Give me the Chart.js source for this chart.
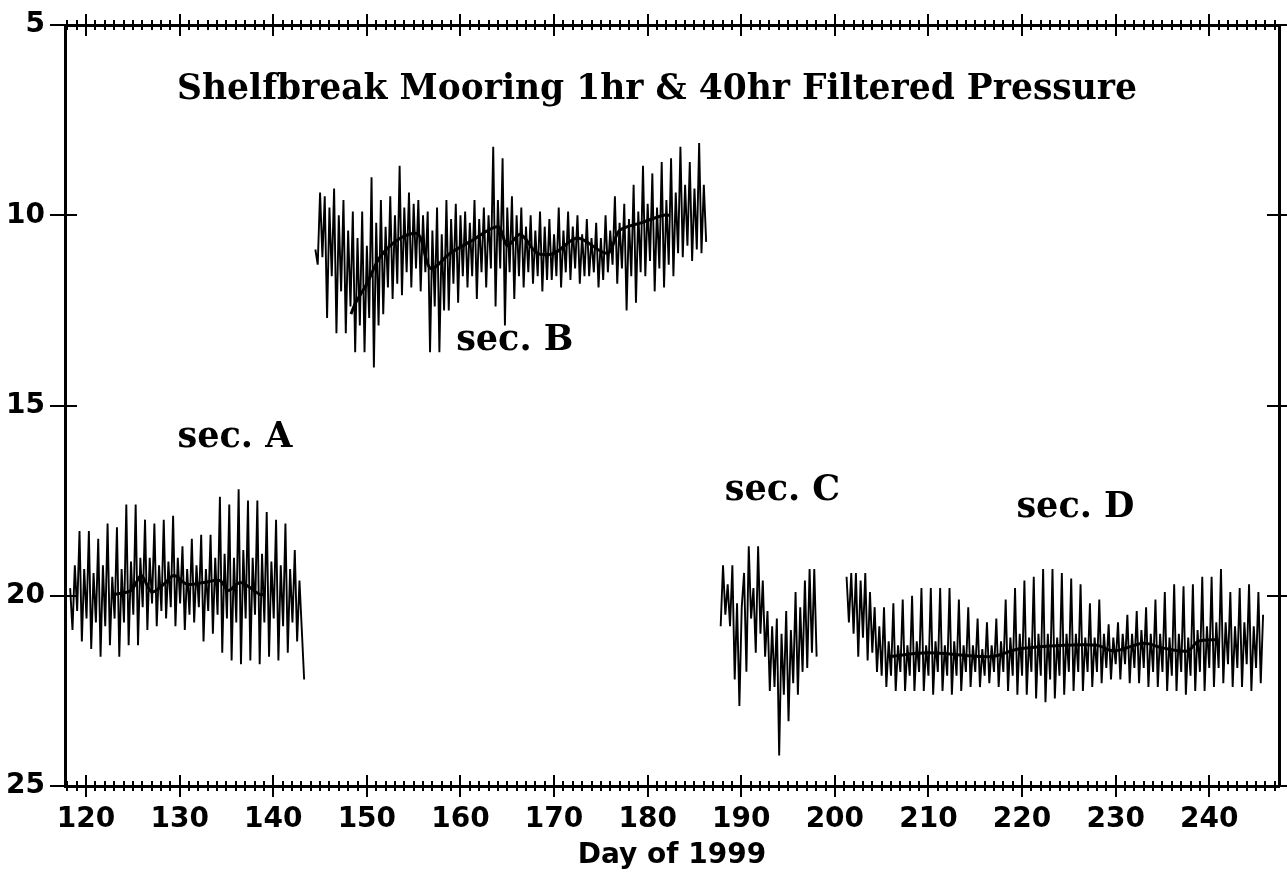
<!DOCTYPE html>
<html>
<head>
    <title>Shelfbreak Mooring 1hr & 40hr Filtered Pressure</title>
    <script src="https://cdn.jsdelivr.net/npm/chart.js"></script>
    <style>
        body { margin: 0; background: #fff; }
        #wrap { width: 1287px; height: 873px; }
    </style>
</head>
<body>
<div id="wrap"><canvas id="pressureChart"></canvas></div>

<script>
const sampleStep = 0.25;

const secAStart = 118.3;
const secA = [
    19.8, 20.9, 19.2, 20.4,
    18.3, 21.2, 19.3, 20.6,
    18.3, 21.4, 19.4, 20.7,
    18.5, 21.6, 19.2, 20.8,
    18.1, 21.3, 19.5, 20.6,
    18.2, 21.6, 19.3, 20.7,
    17.6, 21.3, 19.1, 20.5,
    17.6, 21.3, 19.0, 20.3,
    18.0, 20.9, 19.0, 20.2,
    18.1, 20.8, 19.2, 20.4,
    18.0, 20.6, 19.1, 20.3,
    17.9, 20.8, 19.0, 20.2,
    18.7, 20.9, 19.3, 20.5,
    18.5, 20.7, 19.2, 20.3,
    18.4, 21.2, 19.3, 20.4,
    18.4, 21.0, 19.0, 20.5,
    17.4, 21.5, 18.9, 20.6,
    17.6, 21.7, 19.0, 20.7,
    17.2, 21.8, 18.8, 20.6,
    17.5, 21.7, 19.0, 20.5,
    17.5, 21.8, 18.9, 20.7,
    17.8, 21.6, 19.1, 20.6,
    18.0, 21.7, 19.2, 20.8,
    18.1, 21.5, 19.3, 20.7,
    18.8, 21.2, 19.6, 20.9,
    22.2
];

const secBStart = 144.5;
const secB = [
    10.9, 11.3, 9.4, 11.1,
    9.5, 12.7, 9.8, 11.6,
    9.3, 13.1, 10.0, 12.0,
    9.6, 13.1, 10.4, 12.4,
    9.9, 13.6, 10.6, 12.9,
    9.9, 13.6, 10.8, 12.7,
    9.0, 14.0, 10.2, 12.9,
    9.6, 12.6, 10.3, 11.9,
    9.5, 12.2, 10.0, 11.8,
    8.7, 12.1, 9.8, 11.5,
    9.4, 11.9, 9.7, 11.4,
    9.6, 12.0, 10.0, 11.5,
    9.9, 13.6, 10.4, 12.4,
    9.8, 13.6, 10.5, 12.5,
    9.6, 12.5, 10.1, 11.8,
    9.7, 12.3, 10.0, 11.6,
    9.9, 11.9, 10.2, 11.6,
    9.6, 12.2, 10.1, 11.5,
    9.8, 11.9, 10.0, 11.4,
    8.2, 12.4, 9.6, 11.4,
    8.5, 12.9, 9.8, 11.5,
    9.5, 12.2, 10.0, 11.6,
    9.8, 11.9, 10.3, 11.5,
    10.0, 11.8, 10.4, 11.6,
    9.9, 12.0, 10.3, 11.7,
    10.1, 11.7, 10.5, 11.6,
    9.8, 11.9, 10.4, 11.5,
    9.9, 11.7, 10.3, 11.4,
    10.0, 11.8, 10.5, 11.6,
    10.1, 11.6, 10.6, 11.5,
    10.2, 11.9, 10.6, 11.7,
    10.0, 11.5, 10.4, 11.3,
    9.5, 11.8, 10.2, 11.4,
    9.7, 12.5, 10.1, 11.6,
    9.2, 12.3, 9.9, 11.5,
    8.7, 11.6, 9.7, 11.2,
    8.9, 12.0, 9.8, 11.4,
    8.6, 11.9, 9.6, 11.3,
    8.5, 11.6, 9.4, 11.0,
    8.2, 11.1, 9.2, 10.8,
    8.6, 11.2, 9.3, 10.9,
    8.1, 11.0, 9.2, 10.7
];

const secCStart = 187.8;
const secC = [
    20.8, 19.2, 20.5, 19.7,
    20.8, 19.2, 22.2, 20.2,
    22.9, 20.3, 19.4, 22.0,
    18.7, 20.6, 19.8, 21.5,
    18.7, 21.0, 19.6, 21.6,
    20.4, 22.5, 20.8, 22.4,
    20.6, 24.2, 21.0, 22.6,
    20.4, 23.3, 20.9, 22.3,
    19.9, 22.6, 20.3, 22.0,
    19.6, 21.9, 19.3, 21.5,
    19.3, 21.6
];

const secDStart = 201.25;
const secD = [
    19.5, 20.7, 19.4, 21.0,
    19.4, 21.6, 19.6, 21.1,
    19.4, 21.7, 19.9, 21.5,
    20.3, 22.0, 20.8, 22.1,
    20.3, 22.4, 21.2, 22.1,
    20.2, 22.5, 21.3, 22.0,
    20.1, 22.5, 21.3, 22.1,
    20.0, 22.5, 21.2, 22.0,
    19.8, 22.5, 21.3, 22.1,
    19.8, 22.6, 21.2, 22.0,
    19.8, 22.5, 21.3, 22.1,
    19.8, 22.6, 21.2, 22.1,
    20.1, 22.5, 21.3, 22.0,
    20.3, 22.4, 21.3, 22.0,
    20.6, 22.4, 21.4, 22.1,
    20.7, 22.3, 21.3, 22.0,
    20.6, 22.4, 21.2, 22.0,
    20.1, 22.5, 21.1, 22.1,
    19.8, 22.6, 21.0, 22.1,
    19.6, 22.6, 21.1, 22.0,
    19.5, 22.7, 21.0, 22.1,
    19.3, 22.8, 21.0, 22.2,
    19.3, 22.7, 21.1, 22.1,
    19.4, 22.6, 21.0, 22.0,
    19.55, 22.5, 21.0, 22.0,
    19.7, 22.5, 21.1, 22.0,
    20.2, 22.4, 21.1, 22.0,
    20.1, 22.3, 21.0, 21.9,
    20.75, 22.2, 21.1, 21.8,
    20.7, 22.2, 21.0, 21.8,
    20.5, 22.3, 21.0, 21.9,
    20.4, 22.3, 20.9, 21.9,
    20.3, 22.4, 21.0, 22.0,
    20.1, 22.4, 21.0, 22.0,
    19.9, 22.5, 21.1, 22.1,
    19.7, 22.5, 21.0, 22.0,
    19.75, 22.6, 21.1, 22.1,
    19.7, 22.5, 20.9, 22.0,
    19.5, 22.5, 20.8, 21.9,
    19.5, 22.4, 20.7, 21.9,
    19.3, 22.3, 20.7, 21.8,
    19.9, 22.4, 20.8, 21.9,
    19.8, 22.4, 20.7, 21.8,
    19.7, 22.5, 20.8, 21.9,
    19.9, 22.3, 20.5
];

// 40hr low-passed pressure
const filtADays = [122.8, 124.8, 125.9, 127.0, 128.3, 129.4, 130.8, 132.6, 134.3, 135.2, 136.5, 138.6, 139.1];
const filtA = [19.97, 19.86, 19.47, 19.9, 19.7, 19.47, 19.7, 19.65, 19.6, 19.86, 19.65, 19.97, 19.95];

const filtBDays = [148.3, 148.8, 150.0, 151.4, 153.6, 155.5, 156.8, 158.9, 161.0, 164.0, 165.0, 166.4, 168.2, 170.0, 172.5, 175.7, 177.0, 179.3, 181.7, 182.3];
const filtB = [12.6, 12.3, 11.8, 11.1, 10.6, 10.5, 11.4, 11.0, 10.7, 10.3, 10.8, 10.5, 11.0, 11.0, 10.6, 11.0, 10.4, 10.2, 10.0, 10.0];

const filtDDays = [205.7, 210.0, 216.7, 219.6, 224.5, 228.0, 229.8, 233.0, 235.0, 237.7, 238.8, 241.0];
const filtD = [21.6, 21.5, 21.6, 21.4, 21.3, 21.3, 21.45, 21.25, 21.37, 21.45, 21.2, 21.15];

const yTicks = [5, 10, 15, 20, 25];

// text written inside the plot, placed in day / pressure units
const titleText = { text: 'Shelfbreak Mooring 1hr & 40hr Filtered Pressure', day: 181.0, value: 6.7 };
const sectionLabels = [
    { text: 'sec. A', day: 135.9, value: 15.85 },
    { text: 'sec. B', day: 165.8, value: 13.3 },
    { text: 'sec. C', day: 194.4, value: 17.25 },
    { text: 'sec. D', day: 225.7, value: 17.7 }
];

function toPoints(start, values) {
    return values.map((v, i) => ({ x: start + i * sampleStep, y: v }));
}
function pairPoints(days, values) {
    return days.map((d, i) => ({ x: d, y: values[i] }));
}

const rawLine = { borderColor: '#000', borderWidth: 1.9, pointRadius: 0, fill: false, tension: 0 };
const filtLine = { borderColor: '#000', borderWidth: 3, pointRadius: 0, fill: false, tension: 0.3 };

// tick marks that cross the frame, and the text inside the plot
const frameMarks = {
    id: 'frameMarks',
    afterDraw(chart) {
        const { ctx, chartArea, scales } = chart;
        ctx.save();
        ctx.strokeStyle = '#000';
        ctx.lineWidth = 2;
        ctx.beginPath();
        for (let d = 118; d <= 247; d++) {
            const px = Math.round(scales.x.getPixelForValue(d));
            const len = d % 10 === 0 ? 11 : 5;
            ctx.moveTo(px, chartArea.top - len);
            ctx.lineTo(px, chartArea.top + len);
            ctx.moveTo(px, chartArea.bottom - len);
            ctx.lineTo(px, chartArea.bottom + len);
        }
        yTicks.forEach(v => {
            const py = Math.round(scales.y.getPixelForValue(v));
            ctx.moveTo(chartArea.left - 12, py);
            ctx.lineTo(chartArea.left + 12, py);
            ctx.moveTo(chartArea.right - 12, py);
            ctx.lineTo(chartArea.right + 12, py);
        });
        ctx.stroke();

        ctx.fillStyle = '#000';
        ctx.textAlign = 'center';
        ctx.textBaseline = 'middle';
        ctx.font = 'bold 34.5px "DejaVu Serif"';
        ctx.fillText(titleText.text, scales.x.getPixelForValue(titleText.day), scales.y.getPixelForValue(titleText.value));
        ctx.font = 'bold 35px "DejaVu Serif"';
        sectionLabels.forEach(t => {
            ctx.fillText(t.text, scales.x.getPixelForValue(t.day), scales.y.getPixelForValue(t.value));
        });
        ctx.restore();
    }
};

const axisFont = { family: 'DejaVu Sans', size: 28, weight: 'bold' };

new Chart(document.getElementById('pressureChart'), {
    type: 'line',
    data: {
        datasets: [
            { ...rawLine, data: toPoints(secAStart, secA) },
            { ...rawLine, data: toPoints(secBStart, secB) },
            { ...rawLine, data: toPoints(secCStart, secC) },
            { ...rawLine, data: toPoints(secDStart, secD) },
            { ...filtLine, data: pairPoints(filtADays, filtA) },
            { ...filtLine, data: pairPoints(filtBDays, filtB) },
            { ...filtLine, data: pairPoints(filtDDays, filtD) }
        ]
    },
    options: {
        responsive: true,
        maintainAspectRatio: false,
        animation: false,
        layout: { padding: 0 },
        plugins: { legend: { display: false }, tooltip: { enabled: false } },
        scales: {
            x: {
                type: 'linear',
                position: 'bottom',
                min: 117.75,
                max: 247.45,
                grid: { display: false },
                border: { display: true, color: '#000', width: 3 },
                ticks: { stepSize: 10, includeBounds: false, color: '#000', font: axisFont, padding: 9, maxRotation: 0 },
                title: { display: true, text: 'Day of 1999', color: '#000', font: axisFont, padding: 0 },
                afterFit: s => { s.height = 87; }
            },
            xTop: {
                type: 'linear',
                position: 'top',
                min: 117.75,
                max: 247.45,
                grid: { display: false },
                border: { display: true, color: '#000', width: 3 },
                ticks: { display: false },
                afterFit: s => { s.height = 25; }
            },
            y: {
                type: 'linear',
                position: 'left',
                reverse: true,
                min: 5,
                max: 25,
                grid: { display: true, drawOnChartArea: false, drawTicks: true, tickLength: 15, color: '#000', lineWidth: 2 },
                border: { display: true, color: '#000', width: 3 },
                ticks: { stepSize: 5, color: '#000', font: axisFont, padding: 5 },
                afterFit: s => { s.width = 65; }
            },
            yRight: {
                type: 'linear',
                position: 'right',
                reverse: true,
                min: 5,
                max: 25,
                grid: { display: false },
                border: { display: true, color: '#000', width: 3 },
                ticks: { display: false },
                afterFit: s => { s.width = 8; }
            }
        }
    },
    plugins: [frameMarks]
});
</script>
</body>
</html>
